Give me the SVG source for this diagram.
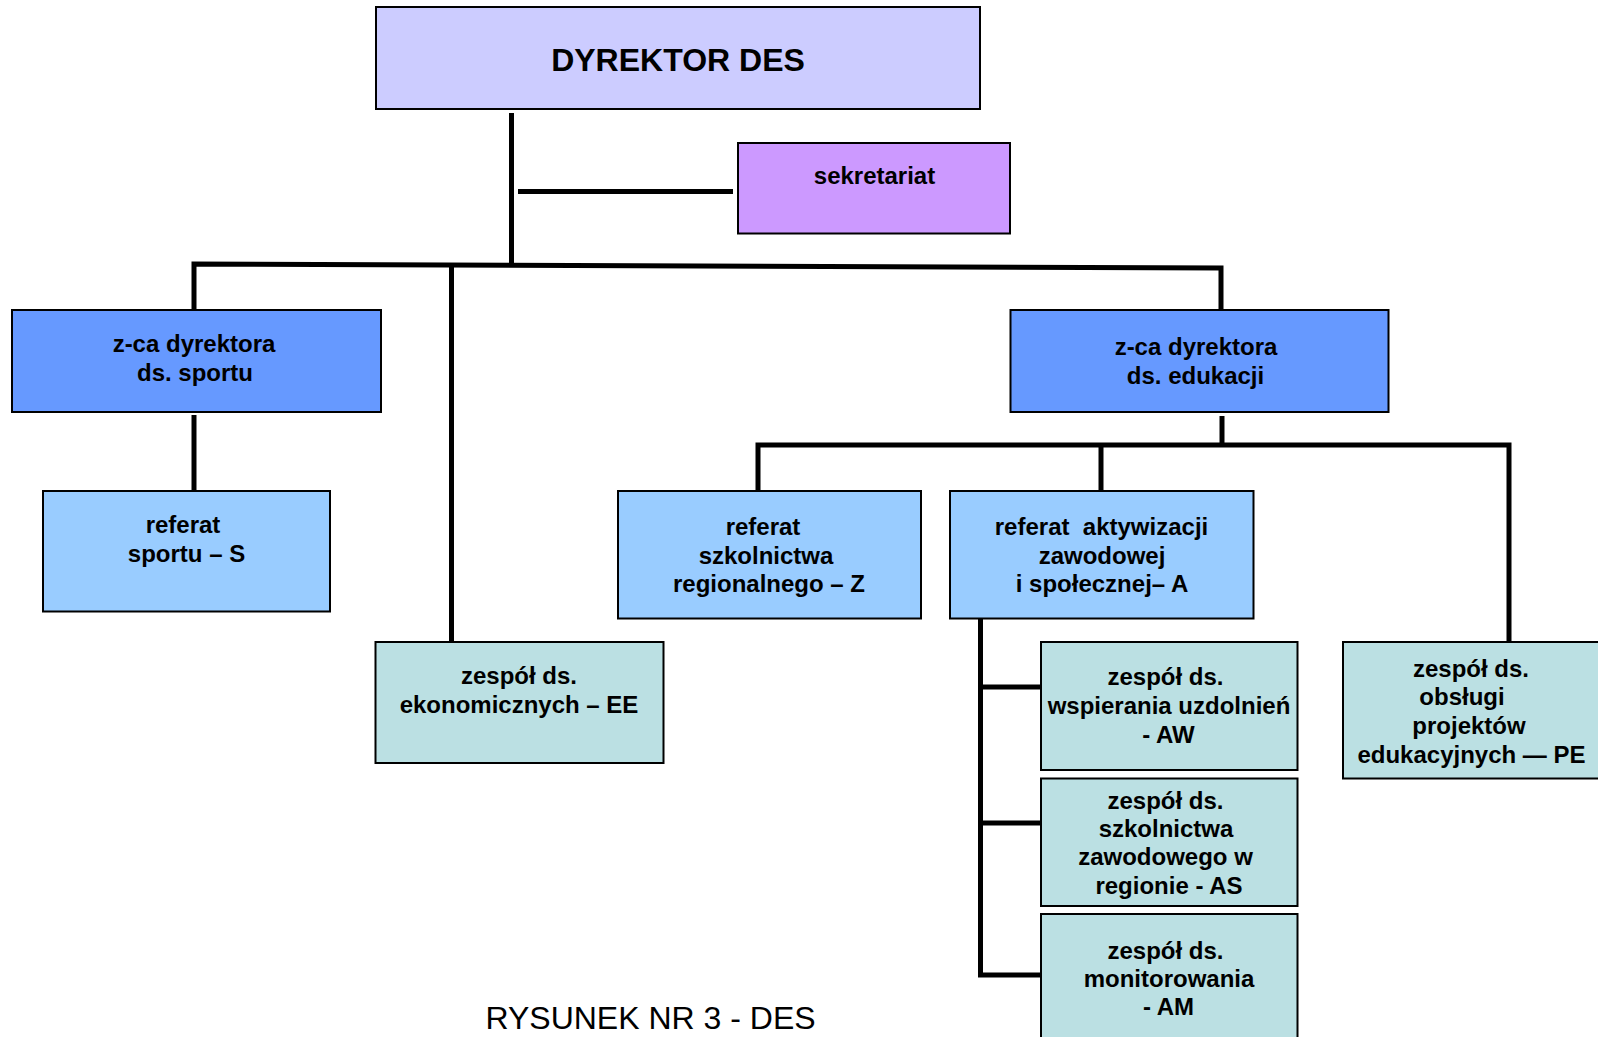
<svg xmlns="http://www.w3.org/2000/svg" width="1598" height="1037" viewBox="0 0 1598 1037">
<style>
.box{stroke:#000;stroke-width:2}
.dir{fill:#CCCCFF}
.sek{fill:#CC99FF}
.zca{fill:#6699FF}
.ref{fill:#99CCFF}
.zes{fill:#BBE0E3}
text{font-family:"Liberation Sans",Arial,sans-serif;font-weight:bold;font-size:24px;fill:#000;text-anchor:middle}
.title{font-size:32px}
.cap{font-weight:normal;font-size:32px}
.conn path{fill:none;stroke:#000;stroke-width:5;stroke-linejoin:miter;stroke-linecap:butt}
</style>
<rect width="1598" height="1037" fill="#fff"/>
<g class="conn" id="connectors">
<path d="M511.5,113 V265"/>
<path d="M518,191.5 H733"/>
<path d="M194,309 V264 L1221,268 V309"/>
<path d="M451.5,265.5 V642"/>
<path d="M194,415 V491"/>
<path d="M1222,416 V445"/>
<path d="M758,491 V445 H1509 V642"/>
<path d="M1101,445 V491"/>
<path d="M980.5,619 V975 H1041"/>
<path d="M980.5,687 H1041"/>
<path d="M980.5,823 H1041"/>
</g>
<g id="dyrektor">
<rect class="box dir" x="376" y="7" width="604" height="102"/>
<text class="title" x="678" y="70.5">DYREKTOR DES</text>
</g>
<g id="sekretariat">
<rect class="box sek" x="738" y="143" width="272" height="90.5"/>
<text x="874.5" y="183.5">sekretariat</text>
</g>
<g id="zca-sport">
<rect class="box zca" x="12" y="310" width="369" height="102"/>
<text x="194" y="352">z-ca dyrektora</text>
<text x="195" y="381">ds. sportu</text>
</g>
<g id="referat-sportu">
<rect class="box ref" x="43" y="491" width="287" height="120.5"/>
<text x="183" y="533">referat</text>
<text x="186.5" y="561.5">sportu – S</text>
</g>
<g id="zespol-ee">
<rect class="box zes" x="375.5" y="642" width="288" height="121"/>
<text x="519" y="683.5">zespół ds.</text>
<text x="519" y="712.5">ekonomicznych – EE</text>
</g>
<g id="zca-edukacji">
<rect class="box zca" x="1010.5" y="310" width="378" height="102"/>
<text x="1196" y="355">z-ca dyrektora</text>
<text x="1195.5" y="383.5">ds. edukacji</text>
</g>
<g id="referat-z">
<rect class="box ref" x="618" y="491" width="303" height="127.5"/>
<text x="763" y="535">referat</text>
<text x="766" y="563.5">szkolnictwa</text>
<text x="769" y="592">regionalnego – Z</text>
</g>
<g id="referat-a">
<rect class="box ref" x="950" y="491" width="303.5" height="127.5"/>
<text x="1101.5" y="535" xml:space="preserve">referat  aktywizacji</text>
<text x="1102" y="563.5">zawodowej</text>
<text x="1102" y="592">i społecznej– A</text>
</g>
<g id="zespol-aw">
<rect class="box zes" x="1041" y="642" width="256.5" height="128"/>
<text x="1165.5" y="685">zespół ds.</text>
<text x="1169" y="714">wspierania uzdolnień</text>
<text x="1168.5" y="743">- AW</text>
</g>
<g id="zespol-as">
<rect class="box zes" x="1041" y="778.5" width="256.5" height="127.5"/>
<text x="1165.5" y="808.5">zespół ds.</text>
<text x="1166" y="837">szkolnictwa</text>
<text x="1165.5" y="865">zawodowego w</text>
<text x="1169" y="893.5">regionie - AS</text>
</g>
<g id="zespol-am">
<rect class="box zes" x="1041" y="914" width="256.5" height="135"/>
<text x="1165.5" y="958.5">zespół ds.</text>
<text x="1169" y="987">monitorowania</text>
<text x="1168.5" y="1015">- AM</text>
</g>
<g id="zespol-pe">
<rect class="box zes" x="1343" y="642" width="260" height="136.5"/>
<text x="1471" y="677">zespół ds.</text>
<text x="1462" y="705">obsługi</text>
<text x="1469" y="733.5">projektów</text>
<text x="1471.5" y="762.5">edukacyjnych — PE</text>
</g>
<text class="cap" x="650.5" y="1029">RYSUNEK NR 3 - DES</text>
</svg>
